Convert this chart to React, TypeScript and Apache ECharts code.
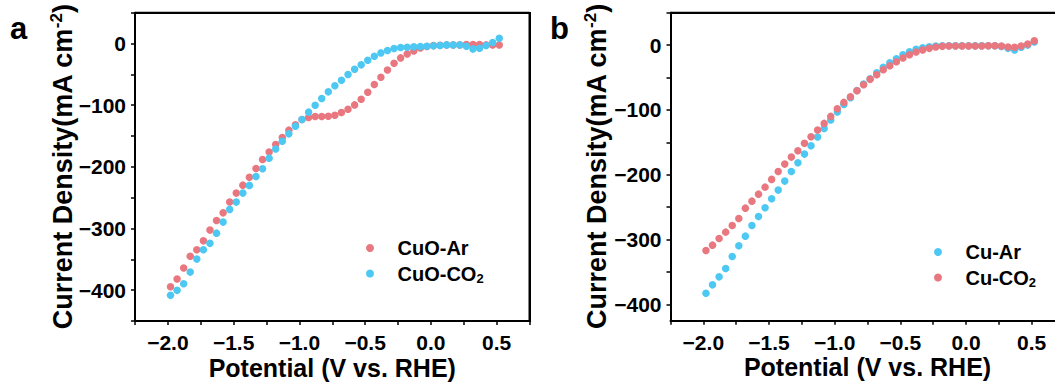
import React, { useEffect, useRef } from 'react';
import * as echarts from 'echarts';

// Potential (V vs. RHE) of each sample point
const potential = [
  -1.98, -1.93, -1.88, -1.83, -1.78, -1.73, -1.68, -1.63, -1.58, -1.53,
  -1.48, -1.43, -1.38, -1.33, -1.28, -1.23, -1.18, -1.13, -1.08, -1.03,
  -0.98, -0.93, -0.88, -0.83, -0.78, -0.73, -0.68, -0.63, -0.58, -0.53,
  -0.48, -0.43, -0.38, -0.33, -0.28, -0.23, -0.18, -0.13, -0.08, -0.03,
  0.02, 0.07, 0.12, 0.17, 0.22, 0.27, 0.32, 0.37, 0.42, 0.47, 0.52,
];

// Panel a
const cuoAr = [
  -394.5, -382, -364, -345, -334.5, -320, -302.6, -287, -274.6, -257,
  -242.6, -229.7, -217, -202.6, -188, -176, -163.7, -152.4, -140.5, -131.9,
  -123.3, -120, -118.3, -118.3, -117.8, -116.2, -111.8, -106.5, -99.5, -90.3,
  -78.9, -66.5, -54.6, -42.8, -31.9, -23.3, -16.8, -12, -7.1, -4.9,
  -3.3, -2.8, -2.2, -2.2, -2.2, -1.7, -1.7, -1.7, -2.2, -2.2, -2.2,
];
const cuoCO2 = [
  -408.4, -400.3, -389.6, -370.7, -349.6, -334.5, -324.1, -307.5, -289.6, -269,
  -257.2, -242.6, -230.1, -215.6, -203.2, -185.9, -171, -158.5, -146.5, -134,
  -123.3, -111.3, -100, -89.2, -78.4, -68.6, -59.5, -50.3, -41.7, -34.6,
  -27, -20.6, -15.2, -11.4, -8.2, -6.5, -6, -5.4, -4.9, -4.4,
  -3.8, -3.3, -2.2, -2.2, -2.2, -4.4, -8.7, -7.6, -3.3, 1.6, 8.6,
];

// Panel b
const cuAr = [
  -382.6, -369.7, -357.4, -344.5, -326, -309.5, -294.6, -278.1, -264.3, -250.9,
  -237, -223.6, -209.7, -194.8, -181.4, -168.1, -155.2, -141.8, -128.4, -115.6,
  -103.2, -91.4, -81.2, -70, -60, -51.8, -42.6, -34.3, -27.1, -20.9,
  -14.8, -10.1, -6.5, -4, -2.4, -1.4, -1, -1, -1, -1,
  -1, -1, -1, -1, -1, -2, -5, -7.6, -3.4, 0, 4.8,
];
const cuCO2 = [
  -316.7, -308.5, -298.2, -288.4, -278.1, -267.3, -251.4, -240.6, -229.8, -219,
  -207.1, -194.8, -183.5, -172.7, -163, -151.5, -141.4, -131, -120.7, -109.9,
  -98.1, -88.3, -79.6, -70.4, -61.1, -52.8, -45.6, -38, -31.7, -25.6,
  -19.9, -14.8, -10.6, -7.6, -5, -2.9, -1.9, -1.4, -1.4, -1.4,
  -1.4, -1.4, -1.4, -0.9, -0.9, -1.4, -2.9, -3.4, -1.4, 1.7, 6.8,
];

// Axis ranges, ticks and labels
const X_MIN = -2.25;
const X_MAX = 0.75;
const Y_MAX = 50;
const Y_MIN_A = -450;
const Y_MIN_B = -425;
const xTickValues = [-2.25, -2, -1.75, -1.5, -1.25, -1, -0.75, -0.5, -0.25, 0, 0.25, 0.5, 0.75];
const xLabelValues = [-2, -1.5, -1, -0.5, 0, 0.5];
const yTickValuesA = [-450, -400, -350, -300, -250, -200, -150, -100, -50, 0, 50];
const yTickValuesB = [-400, -350, -300, -250, -200, -150, -100, -50, 0, 50];
const yLabelValues = [-400, -300, -200, -100, 0];

const FONT = "'Liberation Sans', Arial, Helvetica, sans-serif";
const RED = '#E8777F';
const CYAN = '#4DC8F2';

const GRID_A = { left: 135, top: 12.7, width: 394.5, height: 308.3 };
const GRID_B = { left: 670.5, top: 12.7, width: 394, height: 308 };

const fmtX = (v: number) => (v < 0 ? '\u2212' : '') + Math.abs(v).toFixed(1);
const fmtY = (v: number) => (v < 0 ? '\u2212' : '') + String(Math.abs(v));
const pairs = (ys: number[]) => potential.map((x, i) => [x, ys[i]]);

const legendFormatter = (name: string) =>
  name.endsWith('CO2') ? name.slice(0, -1) + '{sub|2}' : name;

function makeX(gridIndex: number) {
  return {
    type: 'value',
    gridIndex,
    min: X_MIN,
    max: X_MAX,
    name: 'Potential (V vs. RHE)',
    nameLocation: 'middle',
    nameGap: 34,
    nameMoveOverlap: false,
    nameTextStyle: { fontFamily: FONT, fontWeight: 'bold', fontSize: 25, color: '#000', lineHeight: 25 },
    axisLine: { show: true, onZero: false, lineStyle: { color: '#000', width: 2 } },
    axisTick: { show: true, inside: false, length: 4, lineStyle: { color: '#000', width: 1.5 }, customValues: xTickValues },
    axisLabel: {
      show: true, margin: 11, fontFamily: FONT, fontWeight: 'bold', fontSize: 21, color: '#000',
      formatter: fmtX, customValues: xLabelValues,
    },
    splitLine: { show: false },
  };
}

function makeY(gridIndex: number, min: number, ticks: number[], nameGap: number) {
  return {
    type: 'value',
    gridIndex,
    min,
    max: Y_MAX,
    name: 'Current Density(mA cm{sup|-2})',
    nameLocation: 'middle',
    nameRotate: 90,
    nameGap,
    nameMoveOverlap: false,
    nameTextStyle: {
      fontFamily: FONT, fontWeight: 'bold', fontSize: 27, color: '#000', lineHeight: 27,
      rich: {
        sup: { fontFamily: FONT, fontWeight: 'bold', fontSize: 17, color: '#000', lineHeight: 14, padding: [0, 0, 13, 0] },
      },
    },
    axisLine: { show: true, onZero: false, lineStyle: { color: '#000', width: 2 } },
    axisTick: { show: true, inside: false, length: 4, lineStyle: { color: '#000', width: 1.5 }, customValues: ticks },
    axisLabel: {
      show: true, margin: 9, fontFamily: FONT, fontWeight: 'bold', fontSize: 21, color: '#000',
      formatter: fmtY, customValues: yLabelValues,
    },
    splitLine: { show: false },
  };
}

// top and right edges of a panel's box, drawn along the axis limits
function frameSeries(idx: number, yMin: number) {
  return {
    type: 'line',
    name: 'frame' + idx,
    xAxisIndex: idx,
    yAxisIndex: idx,
    data: [[X_MIN, Y_MAX], [X_MAX, Y_MAX], [X_MAX, yMin]],
    symbol: 'none',
    showSymbol: false,
    clip: false,
    silent: true,
    z: 5,
    lineStyle: { color: '#000', width: 2, type: 'solid', opacity: 1 },
    itemStyle: { color: '#000' },
    emphasis: { disabled: true },
  };
}

function makeLegend(names: string[], left: number, top: number) {
  return {
    data: names,
    orient: 'vertical',
    left,
    top,
    padding: 0,
    itemGap: 4,
    itemWidth: 45,
    itemHeight: 8,
    icon: 'circle',
    selectedMode: false,
    formatter: legendFormatter,
    textStyle: {
      fontFamily: FONT, fontWeight: 'bold', fontSize: 20, color: '#000', lineHeight: 20,
      rich: {
        sub: { fontFamily: FONT, fontWeight: 'bold', fontSize: 13, color: '#000', lineHeight: 10, padding: [10, 0, 0, 0] },
      },
    },
  };
}

function scatter(name: string, ys: number[], color: string, idx: number) {
  return {
    type: 'scatter',
    name,
    xAxisIndex: idx,
    yAxisIndex: idx,
    symbol: 'circle',
    symbolSize: 7.5,
    itemStyle: { color, opacity: 1 },
    data: pairs(ys),
  };
}

// box edge overlay (top and right), in page pixels
function edgeStyle(g: { left: number; top: number; width: number; height: number }): React.CSSProperties {
  return {
    position: 'absolute',
    left: g.left - 1,
    top: g.top - 1,
    width: g.width + 2,
    height: g.height + 2,
    borderTop: '2px solid #000',
    borderRight: '2px solid #000',
    boxSizing: 'border-box',
    pointerEvents: 'none',
  };
}

export default function App() {
  const ref = useRef<HTMLDivElement>(null);
  useEffect(() => {
    if (!ref.current) return;
    const chart = echarts.init(ref.current, null, { renderer: 'svg' });
    chart.setOption({
      animation: false,
      backgroundColor: '#fff',
      grid: [
        { ...GRID_A, outerBoundsMode: 'none' },
        { ...GRID_B, outerBoundsMode: 'none' },
      ],
      xAxis: [makeX(0), makeX(1)],
      yAxis: [makeY(0, Y_MIN_A, yTickValuesA, 59), makeY(1, Y_MIN_B, yTickValuesB, 60)],
      legend: [
        makeLegend(['CuO-Ar', 'CuO-CO2'], 366, 238),
        makeLegend(['Cu-Ar', 'Cu-CO2'], 934, 242),
      ],
      graphic: {
        elements: [
          { type: 'text', left: 10, top: 13, style: { text: 'a', fontFamily: FONT, fontWeight: 'bold', fontSize: 31, fill: '#000' } },
          { type: 'text', left: 550, top: 13, style: { text: 'b', fontFamily: FONT, fontWeight: 'bold', fontSize: 31, fill: '#000' } },
        ],
      },
      series: [
        frameSeries(0, Y_MIN_A),
        frameSeries(1, Y_MIN_B),
        scatter('CuO-Ar', cuoAr, RED, 0),
        scatter('CuO-CO2', cuoCO2, CYAN, 0),
        scatter('Cu-Ar', cuAr, CYAN, 1),
        scatter('Cu-CO2', cuCO2, RED, 1),
      ],
    });
    return () => chart.dispose();
  }, []);
  return (
    <div style={{ position: 'absolute', left: 0, top: 0, width: 1055, height: 382, overflow: 'hidden', background: '#fff' }}>
      <div ref={ref} style={{ position: 'absolute', left: 0, top: 0, width: 1055, height: 382 }} />
      <div style={edgeStyle(GRID_A)} />
      <div style={edgeStyle(GRID_B)} />
    </div>
  );
}
